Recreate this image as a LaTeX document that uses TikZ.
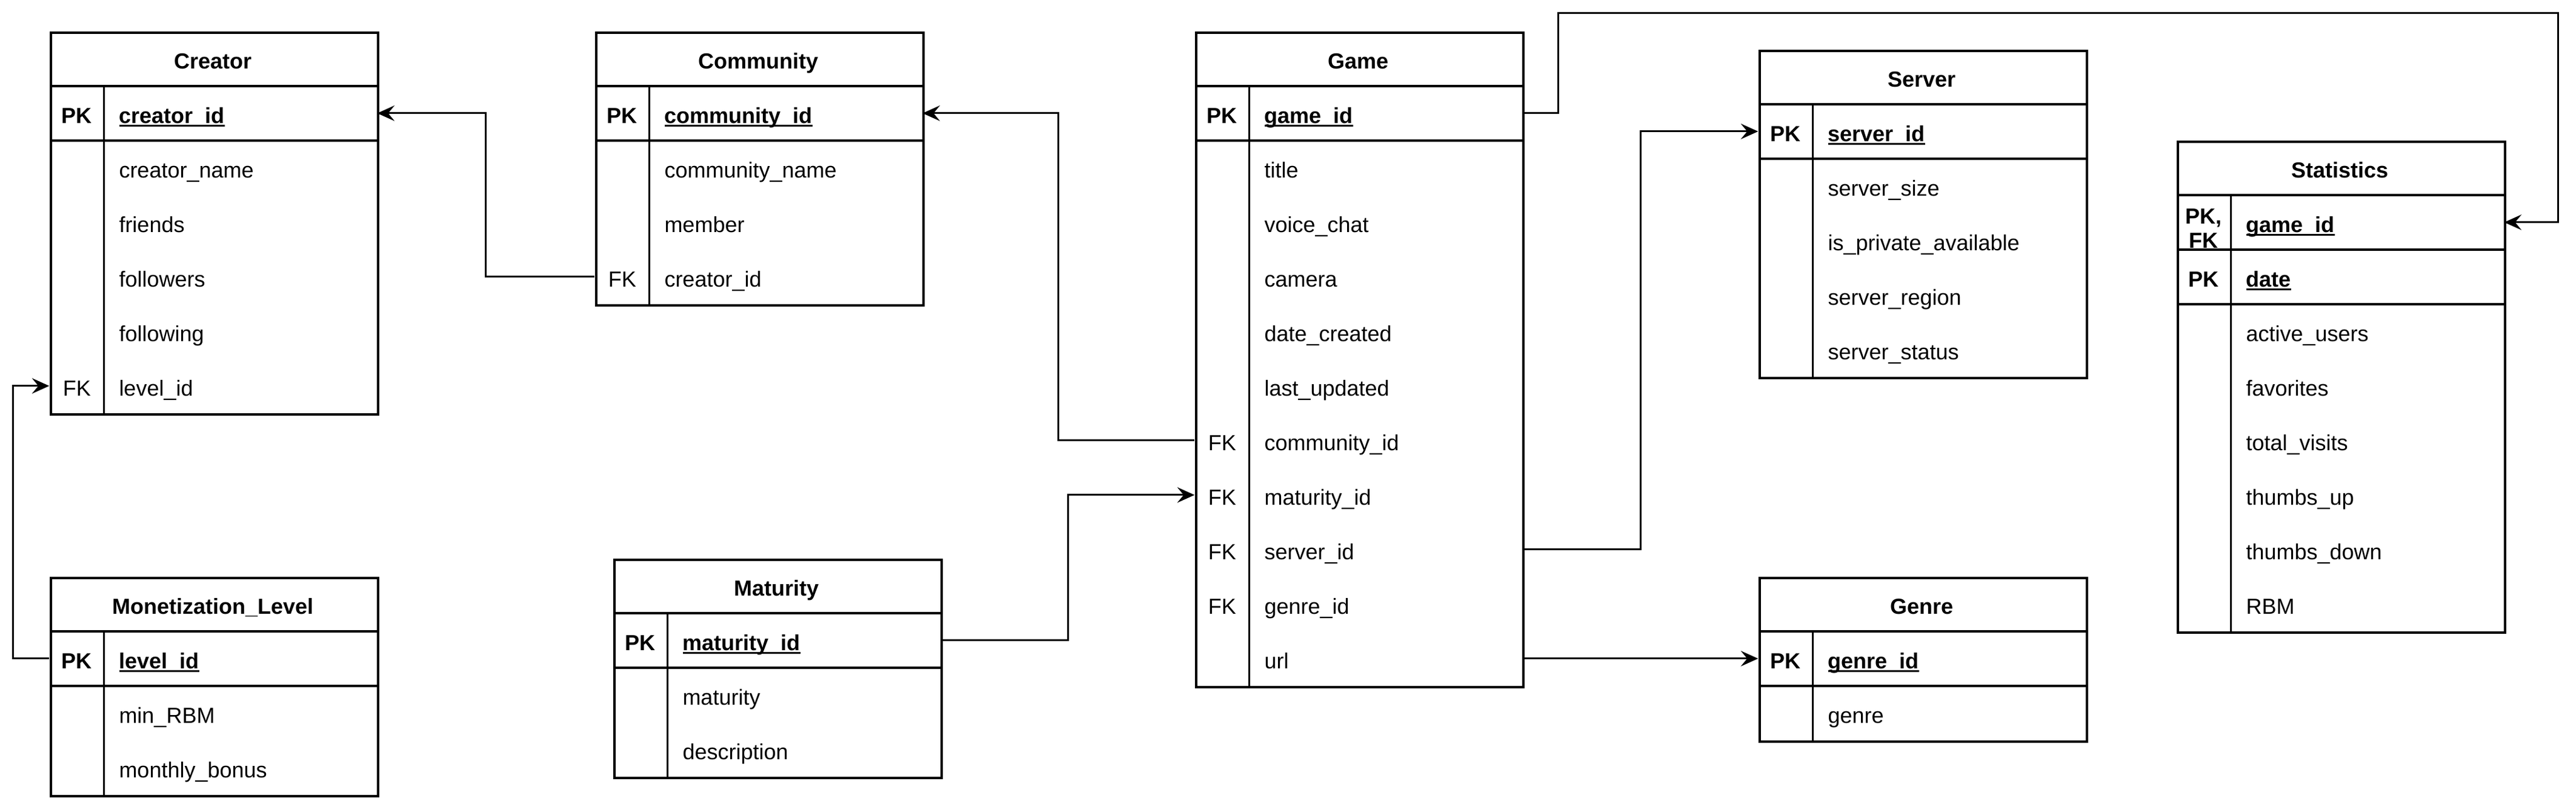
\documentclass[tikz,border=0pt]{standalone}
\usepackage{fontspec}
\setmainfont{Liberation Sans}
\usetikzlibrary{arrows.meta}

\newcommand{\ulfield}[1]{{\setbox0\hbox{\bfseries #1}\rlap{\rule[-1.8pt]{\wd0}{0.8pt}}\box0}}

\tikzset{
  tbl/.style={draw, line width=1.2pt, minimum width=180pt, inner sep=0pt, anchor=north west},
  rowbox/.style={minimum width=180pt, minimum height=30pt, inner sep=0pt},
  ttl/.style={font=\fontsize{12}{14}\selectfont\bfseries, inner sep=0pt, anchor=base},
  keyt/.style={font=\fontsize{12}{13.2}\selectfont, inner sep=0pt, align=center},
  fld/.style={font=\fontsize{12}{14}\selectfont, inner sep=0pt, anchor=base west},
  sepline/.style={line width=1.2pt},
  divline/.style={line width=1pt},
  conn/.style={line width=1pt, -{Stealth[length=9.5pt,width=8.5pt,inset=3.5pt]}}
}

% #1 name, #2 x, #3 y, #4 rows, #5 title, #6 number of PK rows
\newcommand{\erbox}[6]{%
  \node[tbl, minimum height=#4*30pt] (#1) at (#2,#3) {};
  \node[ttl] (#1-t) at (#2+90,#3+20.5) {#5};
  \foreach \s in {0,...,#6}{\draw[sepline] (#2,#3+30+\s*30) -- (#2+180,#3+30+\s*30);}
  \draw[divline] (#2+30,#3+30) -- (#2+30,#3+#4*30);
}
% row with key: #1 table, #2 index, #3 x, #4 y, #5 key, #6 field
\newcommand{\errowk}[6]{%
  \node[rowbox] (#1-r#2) at (#3+90,#4+#2*30+15) {};
  \node[keyt, anchor=base] (#1-k#2) at (#3+15,#4+#2*30+20.5) {#5};
  \node[fld] (#1-f#2) at (#3+38,#4+#2*30+20.5) {#6};
}
% row without key
\newcommand{\errown}[5]{%
  \node[rowbox] (#1-r#2) at (#3+90,#4+#2*30+15) {};
  \node[fld] (#1-f#2) at (#3+38,#4+#2*30+20.5) {#5};
}

\begin{document}
\begin{tikzpicture}[x=1pt, y=-1pt, font=\fontsize{12}{14}\selectfont]
\useasboundingbox (0,0) rectangle (1417,439);

% Creator
\erbox{creator}{27.3}{17.3}{7}{Creator}{1}
\errowk{creator}{1}{27.3}{17.3}{\textbf{PK}}{\ulfield{creator\_id}}
\errown{creator}{2}{27.3}{17.3}{creator\_name}
\errown{creator}{3}{27.3}{17.3}{friends}
\errown{creator}{4}{27.3}{17.3}{followers}
\errown{creator}{5}{27.3}{17.3}{following}
\errowk{creator}{6}{27.3}{17.3}{FK}{level\_id}

% Community
\erbox{community}{327.3}{17.3}{5}{Community}{1}
\errowk{community}{1}{327.3}{17.3}{\textbf{PK}}{\ulfield{community\_id}}
\errown{community}{2}{327.3}{17.3}{community\_name}
\errown{community}{3}{327.3}{17.3}{member}
\errowk{community}{4}{327.3}{17.3}{FK}{creator\_id}

% Monetization_Level
\erbox{monlevel}{27.3}{317.3}{4}{Monetization\_Level}{1}
\errowk{monlevel}{1}{27.3}{317.3}{\textbf{PK}}{\ulfield{level\_id}}
\errown{monlevel}{2}{27.3}{317.3}{min\_RBM}
\errown{monlevel}{3}{27.3}{317.3}{monthly\_bonus}

% Maturity
\erbox{maturity}{337.3}{307.3}{4}{Maturity}{1}
\errowk{maturity}{1}{337.3}{307.3}{\textbf{PK}}{\ulfield{maturity\_id}}
\errown{maturity}{2}{337.3}{307.3}{maturity}
\errown{maturity}{3}{337.3}{307.3}{description}

% Game
\erbox{game}{657.3}{17.3}{12}{Game}{1}
\errowk{game}{1}{657.3}{17.3}{\textbf{PK}}{\ulfield{game\_id}}
\errown{game}{2}{657.3}{17.3}{title}
\errown{game}{3}{657.3}{17.3}{voice\_chat}
\errown{game}{4}{657.3}{17.3}{camera}
\errown{game}{5}{657.3}{17.3}{date\_created}
\errown{game}{6}{657.3}{17.3}{last\_updated}
\errowk{game}{7}{657.3}{17.3}{FK}{community\_id}
\errowk{game}{8}{657.3}{17.3}{FK}{maturity\_id}
\errowk{game}{9}{657.3}{17.3}{FK}{server\_id}
\errowk{game}{10}{657.3}{17.3}{FK}{genre\_id}
\errown{game}{11}{657.3}{17.3}{url}

% Server
\erbox{server}{967.3}{27.3}{6}{Server}{1}
\errowk{server}{1}{967.3}{27.3}{\textbf{PK}}{\ulfield{server\_id}}
\errown{server}{2}{967.3}{27.3}{server\_size}
\errown{server}{3}{967.3}{27.3}{is\_private\_available}
\errown{server}{4}{967.3}{27.3}{server\_region}
\errown{server}{5}{967.3}{27.3}{server\_status}

% Genre
\erbox{genre}{967.3}{317.3}{3}{Genre}{1}
\errowk{genre}{1}{967.3}{317.3}{\textbf{PK}}{\ulfield{genre\_id}}
\errown{genre}{2}{967.3}{317.3}{genre}

% Statistics
\erbox{stat}{1197.3}{77.3}{9}{Statistics}{2}
\node[rowbox] (stat-r1) at (1197.3+90,77.3+45) {};
\node[keyt, anchor=center, font=\fontsize{12}{13.6}\selectfont\bfseries] (stat-k1) at (1197.3+15,77.3+45+3.4) {PK,\\FK};
\node[fld] (stat-f1) at (1197.3+38,77.3+50.5) {\ulfield{game\_id}};
\errowk{stat}{2}{1197.3}{77.3}{\textbf{PK}}{\ulfield{date}}
\errown{stat}{3}{1197.3}{77.3}{active\_users}
\errown{stat}{4}{1197.3}{77.3}{favorites}
\errown{stat}{5}{1197.3}{77.3}{total\_visits}
\errown{stat}{6}{1197.3}{77.3}{thumbs\_up}
\errown{stat}{7}{1197.3}{77.3}{thumbs\_down}
\errown{stat}{8}{1197.3}{77.3}{RBM}

% Connectors
\draw[conn] (community-r4.west) -- ++(-60,0) |- (creator-r1.east);
\draw[conn] (monlevel-r1.west) -- ++(-20,0) |- (creator-r6.west);
\draw[conn] (game-r7.west) -- ++(-75,0) |- (community-r1.east);
\draw[conn] (maturity-r1.east) -- ++(70,0) |- (game-r8.west);
\draw[conn] (game-r9.east) -- ++(65,0) |- (server-r1.west);
\draw[conn] (game-r11.east) -- (genre-r1.west);
\coordinate (gs1) at (857.3,7.3);
\coordinate (gs2) at (1407.3,7.3);
\draw[conn] (game-r1.east) -| (gs1) -- (gs2) |- (stat-r1.east);
\end{tikzpicture}
\end{document}
